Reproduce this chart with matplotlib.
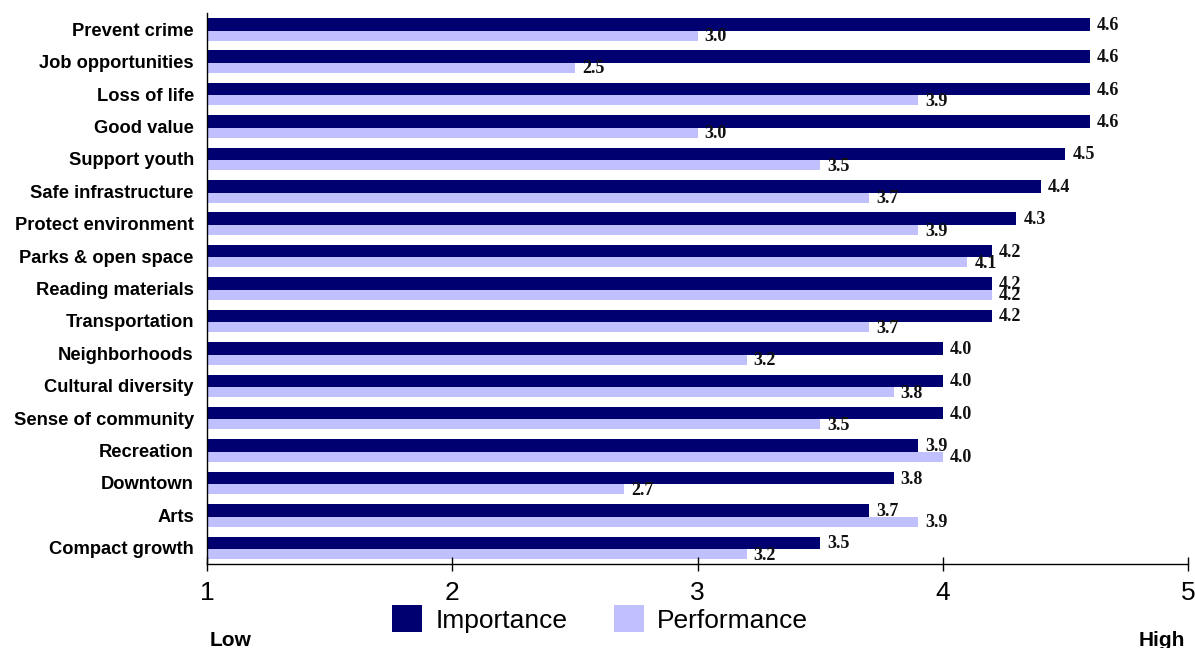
import matplotlib
matplotlib.use("Agg")
import matplotlib.pyplot as plt
import numpy as np

# Survey results: rated importance vs. perceived performance (1 = Low, 5 = High)
categories = [
    "Prevent crime", "Job opportunities", "Loss of life", "Good value",
    "Support youth", "Safe infrastructure", "Protect environment",
    "Parks & open space", "Reading materials", "Transportation",
    "Neighborhoods", "Cultural diversity", "Sense of community",
    "Recreation", "Downtown", "Arts", "Compact growth",
]
importance = [4.6, 4.6, 4.6, 4.6, 4.5, 4.4, 4.3, 4.2, 4.2, 4.2,
              4.0, 4.0, 4.0, 3.9, 3.8, 3.7, 3.5]
performance = [3.0, 2.5, 3.9, 3.0, 3.5, 3.7, 3.9, 4.1, 4.2, 3.7,
               3.2, 3.8, 3.5, 4.0, 2.7, 3.9, 3.2]
series_names = ["Importance", "Performance"]
x_ticks = [1, 2, 3, 4, 5]
scale_ends = ["Low", "High"]

DARK = "#000070"
LIGHT = "#C0C0FF"
SANS = ["Liberation Sans", "DejaVu Sans"]
SERIF = ["Liberation Serif", "DejaVu Serif"]

fig = plt.figure(figsize=(11.95, 6.48), dpi=100)
ax = fig.add_axes([207 / 1195, 1 - 564 / 648, (1188 - 207) / 1195, (564 - 13) / 648])

y = np.arange(len(categories))
h_dark, h_light = 0.386, 0.309
top_gap = 0.155
y_dark = y - 0.5 + top_gap + h_dark / 2
y_light = y - 0.5 + top_gap + h_dark + h_light / 2

base = 1
bars_imp = ax.barh(y_dark, np.array(importance) - base, left=base, height=h_dark,
                   color=DARK, edgecolor="none", label=series_names[0])
bars_perf = ax.barh(y_light, np.array(performance) - base, left=base, height=h_light,
                    color=LIGHT, edgecolor="none", label=series_names[1])

# value labels next to the bar ends
label_style = dict(textcoords="offset pixels", ha="left", va="center",
                   fontsize=13, fontweight="bold", family=SERIF, color="#111111")
for yy, v in zip(y_dark, importance):
    ax.annotate(f"{v:.1f}", xy=(v, yy), xytext=(7, -1), **label_style)
for yy, v in zip(y_light, performance):
    ax.annotate(f"{v:.1f}", xy=(v, yy), xytext=(7, -1), **label_style)

ax.set_xlim(1, 5)
ax.set_ylim(len(categories) - 0.5, -0.5)
ax.set_xticks(x_ticks)
ax.set_xticklabels([str(t) for t in x_ticks], fontsize=19, family=SANS)
ax.set_yticks(y)
ax.set_yticklabels(categories, fontsize=13.2, fontweight="bold", family=SANS)
ax.tick_params(axis="y", length=0, pad=9.5)
ax.tick_params(axis="x", direction="inout", length=10, width=1.0, pad=7, color="black")

for side in ("top", "right"):
    ax.spines[side].set_visible(False)
for side in ("left", "bottom"):
    ax.spines[side].set_color("black")
    ax.spines[side].set_linewidth(1.0)

fig.legend(handles=[bars_imp, bars_perf], labels=series_names, loc="center",
           bbox_to_anchor=(600 / 1195, 1 - 619 / 648), ncol=2, frameon=False,
           prop={"family": SANS, "size": 19},
           handlelength=1.14, handleheight=1.21, handletextpad=0.49,
           columnspacing=1.75, borderpad=0, borderaxespad=0)

fig.text(210 / 1195, 1 - 646 / 648, scale_ends[0], ha="left", va="baseline",
         fontsize=15, fontweight="bold", family=SANS)
fig.text(1185 / 1195, 1 - 646 / 648, scale_ends[1], ha="right", va="baseline",
         fontsize=15, fontweight="bold", family=SANS)

fig.savefig("out.png", dpi=100, facecolor="white")
